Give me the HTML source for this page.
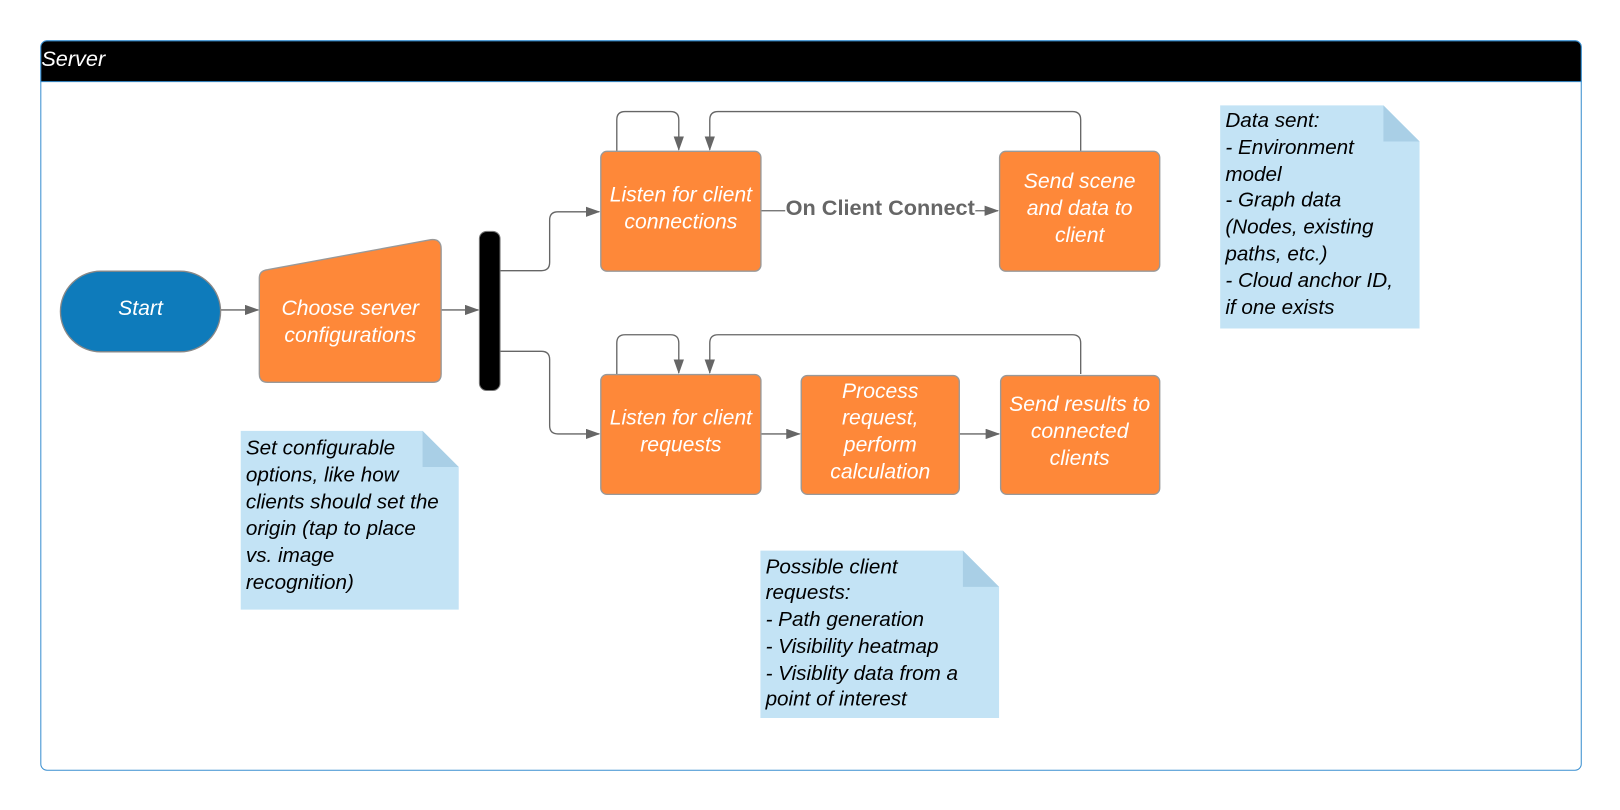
<!DOCTYPE html>
<html><head><style>body{margin:0;background:#fff}svg{display:block}</style></head><body>
<svg width="1620" height="810" viewBox="0 0 1568 784" xmlns="http://www.w3.org/2000/svg" font-family="Liberation Sans, sans-serif">
<defs><marker id="a" markerWidth="14" markerHeight="10" refX="13" refY="5" orient="auto" markerUnits="userSpaceOnUse"><path d="M0,0 L14,5 L0,10 z" fill="#666"/></marker></defs>
<rect x="39.5" y="39.5" width="1491" height="706" rx="6" fill="#fff" stroke="#3a8fd0"/>
<path d="M39.5,79 V45.5 a6,6 0 0 1 6,-6 H1524.5 a6,6 0 0 1 6,6 V79 z" fill="#000" stroke="#3a8fd0"/>
<text x="40" y="64" font-size="21" font-style="italic" fill="#fff">Server</text>
<g stroke="#666" stroke-width="1.3" fill="none" marker-end="url(#a)">
<path d="M213,300 H250"/><path d="M427,300 H463"/>
<path d="M484,262 H524 q8,0 8,-8 V213 q0,-8 8,-8 H580"/>
<path d="M484,340 H524 q8,0 8,8 V412 q0,8 8,8 H580"/>
<path d="M597,146 V116 q0,-8 8,-8 H649 q8,0 8,8 V145"/>
<path d="M1046,146 V116 q0,-8 -8,-8 H695 q-8,0 -8,8 V145"/>
<path d="M597,362 V332 q0,-8 8,-8 H649 q8,0 8,8 V361"/>
<path d="M1046,362 V332 q0,-8 -8,-8 H695 q-8,0 -8,8 V361"/>
<path d="M736,420 H774"/><path d="M928,420 H967"/>
<path d="M944,204 H966"/>
</g>
<path d="M736,204 H760" stroke="#666" stroke-width="1.3"/>
<text x="852" y="208" font-size="21" font-weight="bold" fill="#666" text-anchor="middle">On Client Connect</text>
<rect x="58.5" y="262.5" width="155" height="78" rx="39" fill="#0e7bbb" stroke="#888" stroke-width="1.3"/>
<path d="M259,261 L417,232 q10,-1 10,9 V362 q0,8 -8,8 H259 q-8,0 -8,-8 V269 q0,-7 8,-8z" fill="#fe8839" stroke="#999" stroke-width="1.3"/>
<rect x="464" y="224" width="20" height="154" rx="7" fill="#000" stroke="#777"/>
<g fill="#fe8839" stroke="#999" stroke-width="1.3">
<rect x="581.5" y="146.5" width="155" height="116" rx="6"/>
<rect x="967.5" y="146.5" width="155" height="116" rx="6"/>
<rect x="581.5" y="362.5" width="155" height="116" rx="6"/>
<rect x="775.5" y="363.5" width="153" height="115" rx="6"/>
<rect x="968.5" y="363.5" width="154" height="115" rx="6"/>
</g>
<g font-size="20.5" font-style="italic" fill="#fff" text-anchor="middle">
<text x="136" y="305">Start</text>
<text x="339" y="305">Choose server</text><text x="339" y="331">configurations</text>
<text x="659" y="195">Listen for client</text><text x="659" y="221">connections</text>
<text x="1045" y="182">Send scene</text><text x="1045" y="208">and data to</text><text x="1045" y="234">client</text>
<text x="659" y="411">Listen for client</text><text x="659" y="437">requests</text>
<text x="852" y="385">Process</text><text x="852" y="411">request,</text><text x="852" y="437">perform</text><text x="852" y="463">calculation</text>
<text x="1045" y="398">Send results to</text><text x="1045" y="424">connected</text><text x="1045" y="450">clients</text>
</g>
<g fill="#c3e3f5">
<path d="M233,417 H409 L444,452 V590 H233z"/>
<path d="M736,533 H932 L967,568 V695 H736z"/>
<path d="M1181,102 H1339 L1374,137 V318 H1181z"/>
</g>
<g fill="#a9cfe6"><path d="M409,417 V452 H444z"/><path d="M932,533 V568 H967z"/><path d="M1339,102 V137 H1374z"/></g>
<g font-size="20" font-style="italic" fill="#000">
<text x="238" y="440">Set configurable</text><text x="238" y="466">options, like how</text><text x="238" y="492">clients should set the</text><text x="238" y="518">origin (tap to place</text><text x="238" y="544">vs. image</text><text x="238" y="570">recognition)</text>
<text x="741" y="555">Possible client</text><text x="741" y="580">requests:</text><text x="741" y="606">- Path generation</text><text x="741" y="632">- Visibility heatmap</text><text x="741" y="658">- Visiblity data from a</text><text x="741" y="683">point of interest</text>
<text x="1186" y="123">Data sent:</text><text x="1186" y="149">- Environment</text><text x="1186" y="175">model</text><text x="1186" y="200">- Graph data</text><text x="1186" y="226">(Nodes, existing</text><text x="1186" y="252">paths, etc.)</text><text x="1186" y="278">- Cloud anchor ID,</text><text x="1186" y="304">if one exists</text>
</g>
</svg>
</body></html>
